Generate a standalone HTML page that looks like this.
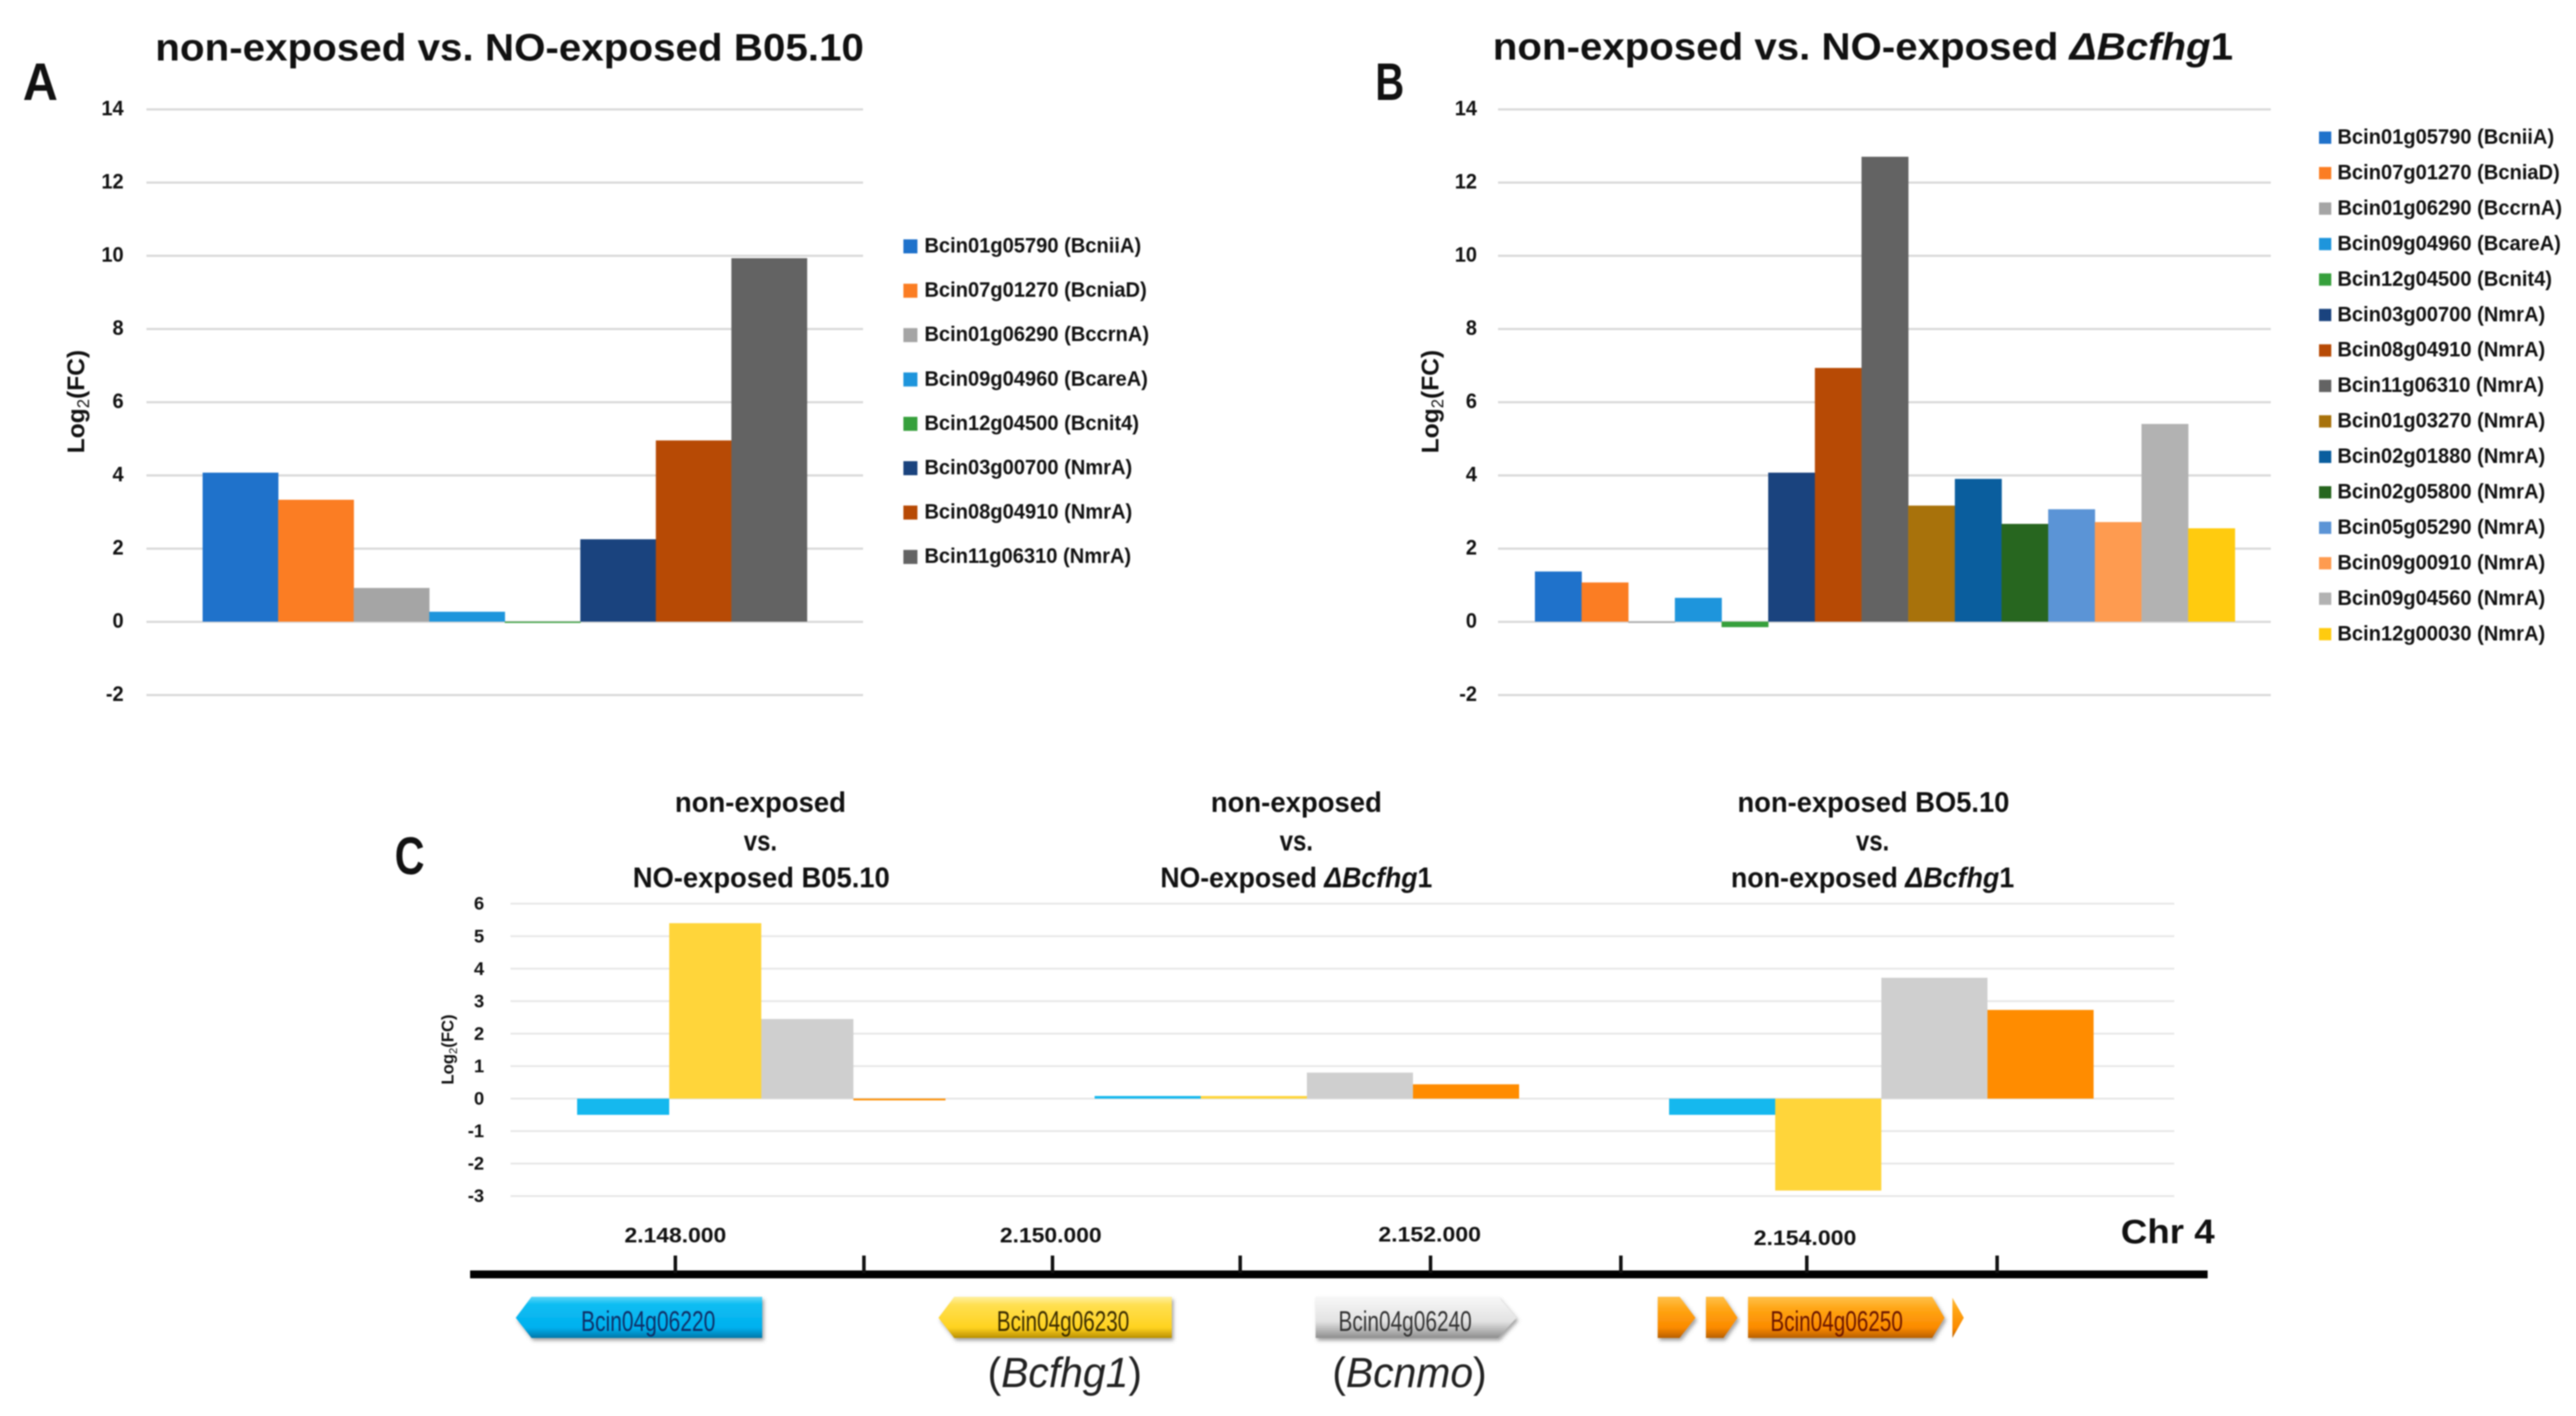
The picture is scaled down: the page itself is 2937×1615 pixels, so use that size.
<!DOCTYPE html>
<html lang="en">
<head>
<meta charset="utf-8">
<title>NO-exposed expression charts</title>
<style>
html,body{margin:0;padding:0;background:#fff;}
#figure{display:block;width:2937px;height:1615px;filter:blur(0.9px);}
text{font-family:"Liberation Sans",sans-serif;fill:#111;}
.b{font-weight:700;}
</style>
</head>
<body>
<svg id="figure" xmlns="http://www.w3.org/2000/svg" width="2937" height="1615" viewBox="0 0 2937 1615">
  <defs>
    <linearGradient id="gBlue" x1="0" y1="0" x2="0" y2="1"><stop offset="0" stop-color="#5fd6f8"/><stop offset="0.18" stop-color="#0fbdf2"/><stop offset="0.75" stop-color="#00b0ee"/><stop offset="1" stop-color="#0078aa"/></linearGradient>
    <linearGradient id="gYellow" x1="0" y1="0" x2="0" y2="1"><stop offset="0" stop-color="#fff0a0"/><stop offset="0.2" stop-color="#ffdf50"/><stop offset="0.75" stop-color="#ffd21f"/><stop offset="1" stop-color="#b98f00"/></linearGradient>
    <linearGradient id="gGray" x1="0" y1="0" x2="0" y2="1"><stop offset="0" stop-color="#f7f7f7"/><stop offset="0.6" stop-color="#e2e2e2"/><stop offset="1" stop-color="#8e8e8e"/></linearGradient>
    <linearGradient id="gOrange" x1="0" y1="0" x2="0" y2="1"><stop offset="0" stop-color="#ffc04a"/><stop offset="0.3" stop-color="#ffa514"/><stop offset="0.75" stop-color="#fb8a00"/><stop offset="1" stop-color="#b85f00"/></linearGradient>
    <filter id="shadow" x="-10%" y="-10%" width="120%" height="130%"><feDropShadow dx="2" dy="3" stdDeviation="2" flood-color="#555" flood-opacity="0.55"/></filter>
  </defs>

  <text class="b" x="26" y="114" font-size="60" textLength="40" lengthAdjust="spacingAndGlyphs">A</text>
  <text class="b" x="1568" y="114" font-size="60" textLength="33" lengthAdjust="spacingAndGlyphs">B</text>
  <text class="b" x="450" y="997" font-size="60" textLength="34" lengthAdjust="spacingAndGlyphs">C</text>

  <text class="b" x="177" y="69" font-size="44" textLength="808" lengthAdjust="spacingAndGlyphs">non-exposed vs. NO-exposed B05.10</text>
  <text class="b" x="1702" y="68" font-size="44" textLength="844" lengthAdjust="spacingAndGlyphs">non-exposed vs. NO-exposed <tspan font-style="italic">ΔBcfhg</tspan>1</text>

  <g id="chartA"></g>
  <g id="chartB"></g>
  <g id="chartC"></g>

  <g class="b" font-size="32" text-anchor="middle">
    <text class="b" x="867" y="926" textLength="195" lengthAdjust="spacingAndGlyphs">non-exposed</text>
    <text class="b" x="867" y="970" textLength="38" lengthAdjust="spacingAndGlyphs">vs.</text>
    <text class="b" x="868" y="1012" textLength="293" lengthAdjust="spacingAndGlyphs">NO-exposed B05.10</text>
    <text class="b" x="1478" y="926" textLength="195" lengthAdjust="spacingAndGlyphs">non-exposed</text>
    <text class="b" x="1478" y="970" textLength="38" lengthAdjust="spacingAndGlyphs">vs.</text>
    <text class="b" x="1478" y="1012" textLength="310" lengthAdjust="spacingAndGlyphs">NO-exposed <tspan font-style="italic">ΔBcfhg</tspan>1</text>
    <text class="b" x="2136" y="926" textLength="310" lengthAdjust="spacingAndGlyphs">non-exposed BO5.10</text>
    <text class="b" x="2135" y="970" textLength="38" lengthAdjust="spacingAndGlyphs">vs.</text>
    <text class="b" x="2135" y="1012" textLength="323" lengthAdjust="spacingAndGlyphs">non-exposed <tspan font-style="italic">ΔBcfhg</tspan>1</text>
  </g>

  <g>
    <rect x="536" y="1449" width="1981" height="9" fill="#000"/>
    <rect x="768" y="1432" width="4" height="20" fill="#111"/>
    <rect x="983" y="1432" width="4" height="20" fill="#111"/>
    <rect x="1198" y="1432" width="4" height="20" fill="#111"/>
    <rect x="1412" y="1432" width="4" height="20" fill="#111"/>
    <rect x="1629" y="1432" width="4" height="20" fill="#111"/>
    <rect x="1846" y="1432" width="4" height="20" fill="#111"/>
    <rect x="2058" y="1432" width="4" height="20" fill="#111"/>
    <rect x="2275" y="1432" width="4" height="20" fill="#111"/>
    <text class="b" x="770" y="1417" font-size="24" text-anchor="middle" textLength="116" lengthAdjust="spacingAndGlyphs">2.148.000</text>
    <text class="b" x="1198" y="1417" font-size="24" text-anchor="middle" textLength="116" lengthAdjust="spacingAndGlyphs">2.150.000</text>
    <text class="b" x="1630" y="1416" font-size="24" text-anchor="middle" textLength="117" lengthAdjust="spacingAndGlyphs">2.152.000</text>
    <text class="b" x="2058" y="1420" font-size="24" text-anchor="middle" textLength="117" lengthAdjust="spacingAndGlyphs">2.154.000</text>
    <text class="b" x="2418" y="1418" font-size="39" textLength="107" lengthAdjust="spacingAndGlyphs">Chr 4</text>
  </g>

  <g>
    <polygon points="588,1503 606,1479 869,1479 869,1526 606,1526" fill="url(#gBlue)" filter="url(#shadow)"/>
    <text x="739" y="1518" font-size="32" text-anchor="middle" textLength="153" lengthAdjust="spacingAndGlyphs" style="fill:#0f2f66">Bcin04g06220</text>
    <polygon points="1070,1503 1088,1479 1336,1479 1336,1526 1088,1526" fill="url(#gYellow)" filter="url(#shadow)"/>
    <text x="1212" y="1518" font-size="32" text-anchor="middle" textLength="151" lengthAdjust="spacingAndGlyphs" style="fill:#3a2c00">Bcin04g06230</text>
    <polygon points="1500,1479 1708,1479 1729,1503 1708,1526 1500,1526" fill="url(#gGray)" filter="url(#shadow)"/>
    <text x="1602" y="1518" font-size="32" text-anchor="middle" textLength="152" lengthAdjust="spacingAndGlyphs" style="fill:#333">Bcin04g06240</text>
    <polygon points="1890,1479 1915,1479 1933,1503 1915,1526 1890,1526" fill="url(#gOrange)" filter="url(#shadow)"/>
    <polygon points="1945,1479 1965,1479 1981,1503 1965,1526 1945,1526" fill="url(#gOrange)" filter="url(#shadow)"/>
    <polygon points="1993,1479 2203,1479 2217,1503 2203,1526 1993,1526" fill="url(#gOrange)" filter="url(#shadow)"/>
    <text x="2094" y="1518" font-size="32" text-anchor="middle" textLength="151" lengthAdjust="spacingAndGlyphs" style="fill:#6a1500">Bcin04g06250</text>
    <polygon points="2226,1480 2239,1503 2226,1526" fill="url(#gOrange)"/>
    <text x="1126" y="1582" font-size="48" textLength="176" lengthAdjust="spacingAndGlyphs" style="fill:#222">(<tspan font-style="italic">Bcfhg1</tspan>)</text>
    <text x="1519" y="1582" font-size="48" textLength="176" lengthAdjust="spacingAndGlyphs" style="fill:#222">(<tspan font-style="italic">Bcnmo</tspan>)</text>
  </g>
</svg>

<script>
const categoriesA = ["Bcin01g05790 (BcniiA)","Bcin07g01270 (BcniaD)","Bcin01g06290 (BccrnA)","Bcin09g04960 (BcareA)","Bcin12g04500 (Bcnit4)","Bcin03g00700 (NmrA)","Bcin08g04910 (NmrA)","Bcin11g06310 (NmrA)"];
const valuesA = [4.07, 3.33, 0.92, 0.27, -0.03, 2.25, 4.95, 9.93];
const categoriesB = ["Bcin01g05790 (BcniiA)","Bcin07g01270 (BcniaD)","Bcin01g06290 (BccrnA)","Bcin09g04960 (BcareA)","Bcin12g04500 (Bcnit4)","Bcin03g00700 (NmrA)","Bcin08g04910 (NmrA)","Bcin11g06310 (NmrA)","Bcin01g03270 (NmrA)","Bcin02g01880 (NmrA)","Bcin02g05800 (NmrA)","Bcin05g05290 (NmrA)","Bcin09g00910 (NmrA)","Bcin09g04560 (NmrA)","Bcin12g00030 (NmrA)"];
const valuesB = [1.37, 1.07, -0.02, 0.65, -0.15, 4.07, 6.93, 12.7, 3.17, 3.9, 2.67, 3.07, 2.72, 5.4, 2.55];
const ticksAB = [14, 12, 10, 8, 6, 4, 2, 0, -2];
const palette = ["#1f72cb","#fb7d23","#a5a5a5","#1e95dc","#36a03c","#1a437e","#b74a05","#636363","#a8720b","#0a5e9e","#27661f","#5b94d6","#fe9b50","#b2b2b2","#ffcb0f"];

const seriesC = ["Bcin04g06220","Bcin04g06230","Bcin04g06240","Bcin04g06250"];
const comparisonsC = ["B05.10 response","Bcfhg1 response","Strain comparison"];
const valuesComparison1 = [-0.5, 5.4, 2.45, -0.05];
const valuesComparison2 = [0.08, 0.08, 0.8, 0.44];
const valuesComparison3 = [-0.5, -2.83, 3.72, 2.73];
const ticksC = [6, 5, 4, 3, 2, 1, 0, -1, -2, -3];
const paletteC = ["#15b8ee","#ffd53a","#cfcfcf","#ff8c00"];

const NS = "http://www.w3.org/2000/svg";

function makeRect(parent, x, y, w, h, fill) {
  const r = document.createElementNS(NS, "rect");
  r.setAttribute("x", x);
  r.setAttribute("y", y);
  r.setAttribute("width", w);
  r.setAttribute("height", h);
  r.setAttribute("fill", fill);
  parent.appendChild(r);
  return r;
}

function makeText(parent, str, x, y, size, bold, anchor) {
  const t = document.createElementNS(NS, "text");
  t.setAttribute("x", x);
  t.setAttribute("y", y);
  t.setAttribute("font-size", size);
  t.setAttribute("text-anchor", anchor);
  if (bold) t.setAttribute("font-weight", "700");
  t.textContent = str;
  parent.appendChild(t);
  return t;
}

function makeAxisTitle(parent, cx, cy, size) {
  const t = document.createElementNS(NS, "text");
  t.setAttribute("x", cx);
  t.setAttribute("y", cy);
  t.setAttribute("font-size", size);
  t.setAttribute("font-weight", "700");
  t.setAttribute("text-anchor", "middle");
  t.setAttribute("transform", "rotate(-90 " + cx + " " + cy + ")");
  t.appendChild(document.createTextNode("Log"));
  const sub = document.createElementNS(NS, "tspan");
  sub.setAttribute("font-size", size * 0.68);
  sub.setAttribute("font-weight", "400");
  sub.setAttribute("dy", size * 0.2);
  sub.textContent = "2";
  t.appendChild(sub);
  const rest = document.createElementNS(NS, "tspan");
  rest.setAttribute("dy", -size * 0.2);
  rest.textContent = "(FC)";
  t.appendChild(rest);
  parent.appendChild(t);
  return t;
}

function drawPanel(root, categories, values, frame) {
  const yScale = v => frame.y0 - v * frame.unit;
  const bandW = (frame.barEnd - frame.barStart) / categories.length;
  const xScale = i => frame.barStart + i * bandW;

  ticksAB.forEach(v => {
    const line = makeRect(root, frame.gridX0, yScale(v) - 1, frame.gridX1 - frame.gridX0, 2.5, "#d9d9d9");
    
    
    const label = makeText(root, String(v), frame.tickX, yScale(v) + 7, 24, true, "end");
    
    
    label.setAttribute("lengthAdjust", "spacingAndGlyphs");
    label.setAttribute("textLength", (label.getComputedTextLength() * 0.95).toFixed(1));
  });

  values.forEach((v, i) => {
    const top = Math.min(yScale(v), yScale(0));
    const h = Math.max(Math.abs(yScale(v) - yScale(0)), 1.5);
    const bar = makeRect(root, xScale(i), top, bandW + 0.3, h, palette[i]);
    
    
  });

  const title = makeAxisTitle(root, frame.titleX, frame.titleY, 28);
  
  

  categories.forEach((name, i) => {
    const cy = frame.legendY + i * frame.legendStep;
    const swatch = makeRect(root, frame.swatchX, cy - frame.swatchSize / 2 + 1, frame.swatchSize, frame.swatchSize, palette[i]);
    
    
    const label = makeText(root, name, frame.legendTextX, cy + 8, 24, true, "start");
    
    
    label.setAttribute("textLength", (label.getComputedTextLength() * 0.955).toFixed(1));
    label.setAttribute("lengthAdjust", "spacingAndGlyphs");
  });
}

drawPanel(document.getElementById("chartA"), categoriesA, valuesA, {
  y0: 709, unit: 41.75, gridX0: 167, gridX1: 984, barStart: 231, barEnd: 920, tickX: 141,
  titleX: 96, titleY: 458, legendY: 280, legendStep: 50.6, swatchX: 1030, swatchSize: 16, legendTextX: 1054
});

drawPanel(document.getElementById("chartB"), categoriesB, valuesB, {
  y0: 709, unit: 41.75, gridX0: 1708, gridX1: 2589, barStart: 1750, barEnd: 2548, tickX: 1684,
  titleX: 1640, titleY: 458, legendY: 156, legendStep: 40.45, swatchX: 2644, swatchSize: 14, legendTextX: 2665
});

(function drawChartC() {
  const root = document.getElementById("chartC");
  const yScale = v => 1253 - v * 37.05;
  const groupStart = g => g === 0 ? 658 : (g === 1 ? 1248 : 1903);
  const groupBand = g => g === 0 ? 105 : 121;
  const groups = [valuesComparison1, valuesComparison2, valuesComparison3];

  ticksC.forEach(v => {
    const line = makeRect(root, 582, yScale(v) - 1, 1897, 2, "#e6e6e6");
    
    
    const label = makeText(root, String(v), 552, yScale(v) + 7, 21, true, "end");
    
    
  });

  groups.forEach((vals, g) => {
    vals.forEach((v, i) => {
      const top = Math.min(yScale(v), yScale(0));
      const h = Math.max(Math.abs(yScale(v) - yScale(0)), 2);
      const bar = makeRect(root, groupStart(g) + i * groupBand(g), top, groupBand(g), h, paletteC[i]);
      
      
    });
  });

  const title = makeAxisTitle(root, 517, 1197, 19);
  
  
})();
</script>
</body>
</html>
